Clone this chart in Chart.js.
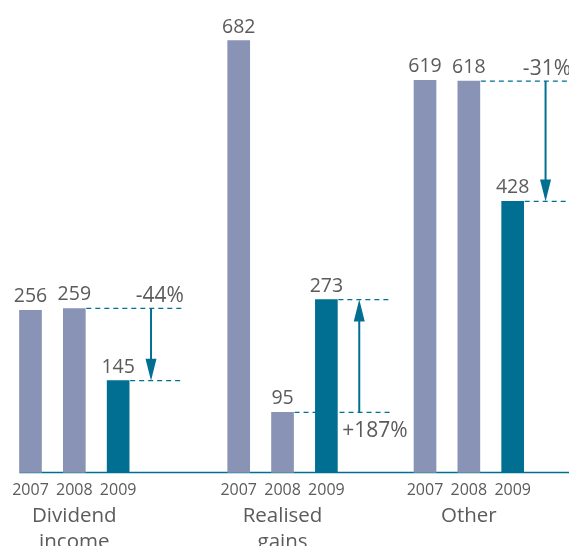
<!DOCTYPE html>
<html>
<head>
<meta charset="utf-8">
<script src="https://cdn.jsdelivr.net/npm/chart.js@4"></script>
<style>
  html, body { margin: 0; padding: 0; background: #fff; }
  #wrap { width: 569px; height: 546px; position: relative; }
</style>
</head>
<body>
<div id="wrap"><canvas id="c"></canvas></div>
<script>
// Income components, 2007-2009
const groupNames = [['Dividend', 'income'], ['Realised', 'gains'], ['Other']];
const years = ['2007', '2008', '2009'];
const values2007 = [256, 682, 619];
const values2008 = [259, 95, 618];
const values2009 = [145, 273, 428];
const changeLabels = ['-44%', '+187%', '-31%'];

// Category axis is split into narrow slots so the groups can sit at their own spacing
const SLOT_COUNT = 49;
const GROUP_START = [0, 19, 36];
const BAR_STEP = 4;
const BAR_W = 22;

const GREY_BLUE = '#8893b5';
const TEAL = '#006f92';
const TEXT = '#5b5b5b';
const FONT = "'Open Sans', 'Noto Sans', sans-serif";

const seriesValues = [values2007, values2008, values2009];
const slotLabels = new Array(SLOT_COUNT).fill('');
const seriesData = seriesValues.map(() => new Array(SLOT_COUNT).fill(null));
const slotOf = (g, k) => GROUP_START[g] + k * BAR_STEP;

groupNames.forEach((_, g) => {
  years.forEach((yr, k) => {
    slotLabels[slotOf(g, k)] = yr;
    seriesData[k][slotOf(g, k)] = seriesValues[k][g];
  });
});

function arrow(ctx, x, yFrom, yTo) {
  const dir = yTo > yFrom ? 1 : -1;
  const headLen = 22, headHalf = 5.5;
  ctx.beginPath();
  ctx.moveTo(x, yFrom);
  ctx.lineTo(x, yTo - dir * headLen + dir * 1);
  ctx.stroke();
  ctx.beginPath();
  ctx.moveTo(x, yTo);
  ctx.lineTo(x - headHalf, yTo - dir * headLen);
  ctx.lineTo(x + headHalf, yTo - dir * headLen);
  ctx.closePath();
  ctx.fill();
}

const decorations = {
  id: 'decorations',
  beforeDatasetsDraw(chart) {
    const { ctx, scales: { x, y } } = chart;
    const y0 = y.getPixelForValue(0);
    ctx.save();
    ctx.strokeStyle = TEAL;
    ctx.lineWidth = 1.5;
    ctx.beginPath();
    ctx.moveTo(x.getPixelForValue(0) - BAR_W / 2, y0);
    ctx.lineTo(chart.width, y0);
    ctx.stroke();
    ctx.restore();
  },
  afterDatasetsDraw(chart) {
    const { ctx, scales: { x, y } } = chart;
    ctx.save();

    // value labels above the bars
    ctx.fillStyle = TEXT;
    ctx.font = `19.5px ${FONT}`;
    ctx.textAlign = 'center';
    ctx.textBaseline = 'alphabetic';
    chart.data.datasets.forEach((ds, i) => {
      chart.getDatasetMeta(i).data.forEach((bar, j) => {
        const v = ds.data[j];
        if (v == null) return;
        ctx.fillText(String(v), bar.x, bar.y - 8);
      });
    });

    // change from 2008 to 2009: dashed guides, arrow and percentage
    groupNames.forEach((_, g) => {
      const s08 = slotOf(g, 1), s09 = slotOf(g, 2);
      const x08 = x.getPixelForValue(s08);
      const x09 = x.getPixelForValue(s09);
      const xArrow = x.getPixelForValue(s09 + 3);
      const xEnd = x.getPixelForValue(s09 + 6);
      const yA = y.getPixelForValue(values2008[g]);
      const yB = y.getPixelForValue(values2009[g]);

      ctx.strokeStyle = TEAL;
      ctx.fillStyle = TEAL;
      ctx.lineWidth = 1.2;
      ctx.setLineDash([5, 4]);
      ctx.beginPath();
      ctx.moveTo(x08 + BAR_W / 2 + 1, yA);
      ctx.lineTo(xEnd, yA);
      ctx.moveTo(x09 + BAR_W / 2 + 1, yB);
      ctx.lineTo(xEnd, yB);
      ctx.stroke();
      ctx.setLineDash([]);

      ctx.lineWidth = 2;
      arrow(ctx, xArrow, yA, yB);

      ctx.fillStyle = TEXT;
      ctx.font = `21px ${FONT}`;
      if (yB > yA) {
        ctx.textAlign = 'right';
        ctx.fillText(changeLabels[g], Math.min(xEnd, chart.width + 2), yA - 6);
      } else {
        ctx.textAlign = 'left';
        ctx.fillText(changeLabels[g], xArrow - 17, yA + 25);
      }
    });

    // group names under the year labels
    ctx.fillStyle = TEXT;
    ctx.font = `20.5px ${FONT}`;
    ctx.textAlign = 'center';
    groupNames.forEach((lines, g) => {
      const cx = x.getPixelForValue(slotOf(g, 1));
      lines.forEach((line, li) => ctx.fillText(line, cx, 521.5 + li * 26));
    });

    ctx.restore();
  }
};

new Chart(document.getElementById('c'), {
  type: 'bar',
  data: {
    labels: slotLabels,
    datasets: years.map((yr, k) => ({
      label: yr,
      data: seriesData[k],
      backgroundColor: k === 2 ? TEAL : GREY_BLUE,
      barThickness: BAR_W,
      grouped: false,
      borderWidth: 0,
      clip: false
    }))
  },
  options: {
    responsive: true,
    maintainAspectRatio: false,
    animation: false,
    layout: { padding: { left: 25, right: 7, top: 0, bottom: 0 } },
    plugins: { legend: { display: false }, tooltip: { enabled: false } },
    scales: {
      x: {
        type: 'category',
        grid: { display: false, drawTicks: false },
        border: { display: false },
        ticks: {
          autoSkip: false, maxRotation: 0, minRotation: 0, padding: 8,
          color: TEXT, font: { family: FONT, size: 16 }
        },
        afterFit(scale) { scale.height = 73.5; }
      },
      y: { display: false, min: 0, max: 746 }
    }
  },
  plugins: [decorations]
});
</script>
</body>
</html>
